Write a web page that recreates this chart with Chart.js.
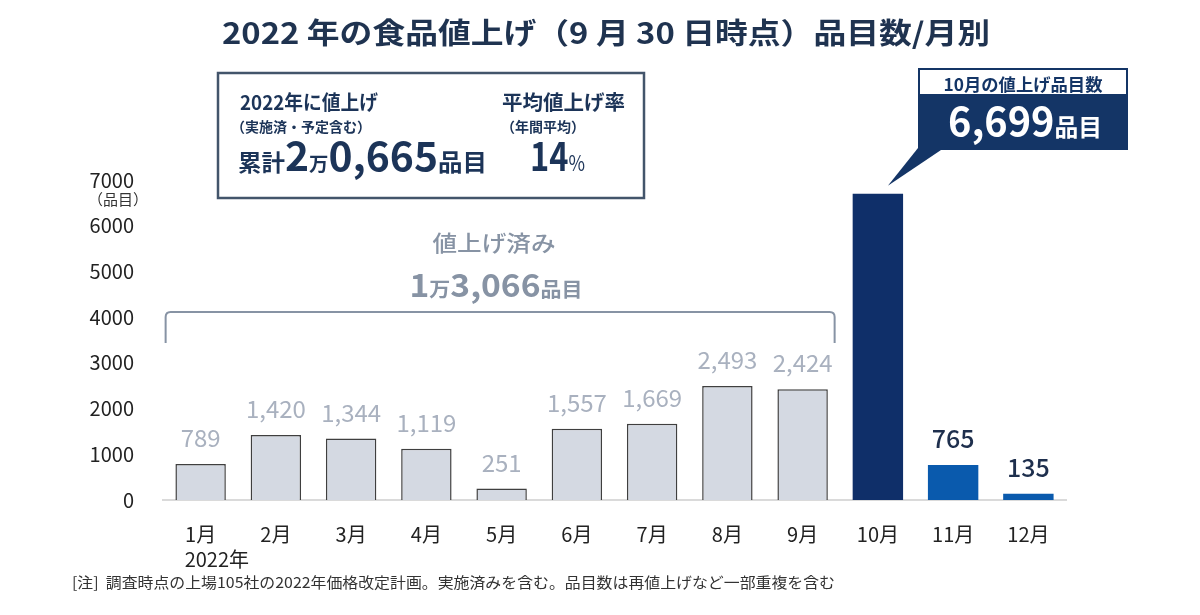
<!DOCTYPE html>
<html>
<head>
<meta charset="utf-8">
<script src="https://cdn.jsdelivr.net/npm/chart.js@4/dist/chart.umd.min.js"></script>
<style>
  html, body { margin: 0; padding: 0; background: #ffffff; }
  #wrap { width: 1200px; height: 615px; position: relative; }
</style>
</head>
<body>
<div id="wrap"><canvas id="c" width="1200" height="615"></canvas></div>
<script>
// ---- data ----
const months = ['1月','2月','3月','4月','5月','6月','7月','8月','9月','10月','11月','12月'];
const itemCounts = [789, 1420, 1344, 1119, 251, 1557, 1669, 2493, 2424, 6699, 765, 135];
const yTickValues = [0, 1000, 2000, 3000, 4000, 5000, 6000, 7000];
const doneTotalLabel = ['1', '万', '3,066', '品目'];
const yearTotal = ['累計', '2', '万', '0,665', '品目'];
const avgRate = ['14', '%'];
const octLabel = ['6,699', '品目'];

// ---- styles ----
const FONT = '"Noto Sans CJK JP", "Noto Sans", sans-serif';
const NAVY = '#0f2f69';
const BLUE = '#0a5aad';
const GRAYBAR = '#d4d9e2';
const TEXTNAVY = '#1c3458';
const BRACKET = '#8793a4';

const barColors = itemCounts.map((v, i) => i === 9 ? NAVY : (i >= 10 ? BLUE : GRAYBAR));
const barBorders = itemCounts.map((v, i) => i <= 8 ? '#3f3f3f' : 'rgba(0,0,0,0)');
const barBorderW = itemCounts.map((v, i) => i <= 8 ? 1.5 : 0);

function drawRuns(ctx, runs, x, y, opts) {
  opts = opts || {};
  let natural = 0;
  runs.forEach(r => { ctx.font = r.f; r.w = ctx.measureText(r.t).width; natural += r.w; });
  const s = opts.width ? opts.width / natural : 1;
  const total = natural * s;
  let x0 = x;
  if (opts.align === 'center') x0 = x - total / 2;
  else if (opts.align === 'right') x0 = x - total;
  ctx.save();
  ctx.translate(x0, y);
  ctx.scale(s, 1);
  ctx.textAlign = 'left';
  ctx.textBaseline = 'alphabetic';
  let cx = 0;
  runs.forEach(r => {
    ctx.font = r.f;
    ctx.fillStyle = r.c || opts.color || '#000';
    ctx.fillText(r.t, cx, 0);
    cx += r.w;
  });
  ctx.restore();
}

const overlay = {
  id: 'overlay',
  afterDatasetsDraw(chart) {
    const ctx = chart.ctx;
    const meta = chart.getDatasetMeta(0);
    const xs = chart.scales.x;
    // value labels
    meta.data.forEach((bar, i) => {
      if (i === 9) return;
      ctx.save();
      ctx.font = (i >= 10 ? '500 25px ' : '24px ') + FONT;
      ctx.fillStyle = i >= 10 ? '#1e2f4d' : '#a9b1bf';
      ctx.textAlign = 'center';
      ctx.textBaseline = 'alphabetic';
      ctx.fillText(itemCounts[i].toLocaleString('en-US'), bar.x, bar.y - 17);
      ctx.restore();
    });

    // title
    drawRuns(ctx, [{t: '2022 年の食品値上げ（9 月 30 日時点）品目数/月別', f: 'bold 29px ' + FONT}],
      606, 44, {align: 'center', width: 768, color: '#1f3350'});

    // left summary box
    ctx.save();
    ctx.strokeStyle = '#43556b';
    ctx.lineWidth = 2.5;
    ctx.strokeRect(218, 73, 426, 125);
    ctx.restore();
    drawRuns(ctx, [{t: '2022年に値上げ', f: 'bold 20px ' + FONT}], 240, 110, {width: 138, color: TEXTNAVY});
    drawRuns(ctx, [{t: '（実施済・予定含む）', f: 'bold 14px ' + FONT}], 231, 132, {color: TEXTNAVY});
    drawRuns(ctx, [
      {t: yearTotal[0], f: 'bold 23px ' + FONT},
      {t: yearTotal[1], f: 'bold 40px ' + FONT},
      {t: yearTotal[2], f: 'bold 19px ' + FONT},
      {t: yearTotal[3], f: 'bold 40px ' + FONT},
      {t: yearTotal[4], f: 'bold 24px ' + FONT}
    ], 238, 171, {width: 249, color: TEXTNAVY});
    drawRuns(ctx, [{t: '平均値上げ率', f: 'bold 20px ' + FONT}], 502, 110, {width: 123, color: TEXTNAVY});
    drawRuns(ctx, [{t: '（年間平均）', f: 'bold 14px ' + FONT}], 501, 132, {color: TEXTNAVY});
    drawRuns(ctx, [
      {t: avgRate[0], f: 'bold 40px ' + FONT},
      {t: avgRate[1], f: '22px ' + FONT}
    ], 530, 171, {width: 55, color: TEXTNAVY});

    // "値上げ済み" bracket
    drawRuns(ctx, [{t: '値上げ済み', f: '500 22px ' + FONT}], 494, 251, {align: 'center', width: 123, color: BRACKET});
    drawRuns(ctx, [
      {t: doneTotalLabel[0], f: 'bold 32px ' + FONT},
      {t: doneTotalLabel[1], f: 'bold 20px ' + FONT},
      {t: doneTotalLabel[2], f: 'bold 32px ' + FONT},
      {t: doneTotalLabel[3], f: 'bold 20px ' + FONT}
    ], 496, 297, {align: 'center', width: 173, color: BRACKET});
    const bl = xs.getPixelForValue(0) - 35;
    const br = xs.getPixelForValue(8) + 32;
    ctx.save();
    ctx.strokeStyle = BRACKET;
    ctx.lineWidth = 2;
    ctx.beginPath();
    ctx.moveTo(bl, 343);
    ctx.lineTo(bl, 317);
    ctx.quadraticCurveTo(bl, 312, bl + 5, 312);
    ctx.lineTo(br - 5, 312);
    ctx.quadraticCurveTo(br, 312, br, 317);
    ctx.lineTo(br, 343);
    ctx.stroke();
    ctx.restore();

    // callout for October
    const oct = meta.data[9];
    ctx.save();
    ctx.fillStyle = '#143566';
    ctx.beginPath();
    ctx.moveTo(918, 148);
    ctx.lineTo(944, 148);
    ctx.lineTo(oct.x + 10, oct.y - 8);
    ctx.closePath();
    ctx.fill();
    ctx.fillRect(918, 94, 210, 56);
    ctx.fillStyle = '#ffffff';
    ctx.fillRect(919.5, 69.5, 207, 25);
    ctx.strokeStyle = '#143566';
    ctx.lineWidth = 2;
    ctx.strokeRect(919, 69, 208, 26);
    ctx.restore();
    drawRuns(ctx, [{t: '10月の値上げ品目数', f: 'bold 17px ' + FONT}], 1023, 91, {align: 'center', width: 159, color: '#143566'});
    drawRuns(ctx, [
      {t: octLabel[0], f: 'bold 40px ' + FONT},
      {t: octLabel[1], f: 'bold 24px ' + FONT}
    ], 1025, 136, {align: 'center', width: 154, color: '#ffffff'});

    // axis unit
    ctx.save();
    ctx.font = '15px ' + FONT;
    ctx.fillStyle = '#333';
    ctx.textAlign = 'center';
    ctx.textBaseline = 'middle';
    ctx.fillText('（品目）', 118, 199);
    ctx.restore();

    // year under first month
    ctx.save();
    ctx.font = '20px ' + FONT;
    ctx.fillStyle = '#222';
    ctx.textAlign = 'left';
    ctx.textBaseline = 'middle';
    ctx.fillText('2022年', xs.getPixelForValue(0) - 16, 559);
    ctx.restore();

    // footnote
    drawRuns(ctx, [{t: '[注]  調査時点の上場105社の2022年価格改定計画。実施済みを含む。品目数は再値上げなど一部重複を含む', f: '15px ' + FONT}],
      72, 588, {width: 763, color: '#333'});
  }
};

new Chart(document.getElementById('c'), {
  type: 'bar',
  data: {
    labels: months,
    datasets: [{
      data: itemCounts,
      backgroundColor: barColors,
      borderColor: barBorders,
      borderWidth: barBorderW,
      barPercentage: 0.67,
      categoryPercentage: 1.0
    }]
  },
  options: {
    responsive: false,
    animation: false,
    layout: { padding: { top: 180, right: 134, left: 0, bottom: 0 } },
    plugins: { legend: { display: false }, tooltip: { enabled: false }, title: { display: false } },
    scales: {
      x: {
        grid: { display: false },
        border: { display: true, color: '#dadada', width: 2 },
        ticks: { font: { size: 20, family: FONT }, color: '#222', padding: 14, maxRotation: 0 },
        afterFit(s) { s.height = 115; }
      },
      y: {
        min: 0, max: 7000,
        afterBuildTicks(s) { s.ticks = yTickValues.map(v => ({ value: v })); },
        grid: { display: false },
        border: { display: false },
        ticks: { font: { size: 20, family: FONT }, color: '#222', padding: 21, callback: v => String(v) },
        afterFit(s) { s.width = 163; }
      }
    }
  },
  plugins: [overlay]
});
</script>
</body>
</html>
